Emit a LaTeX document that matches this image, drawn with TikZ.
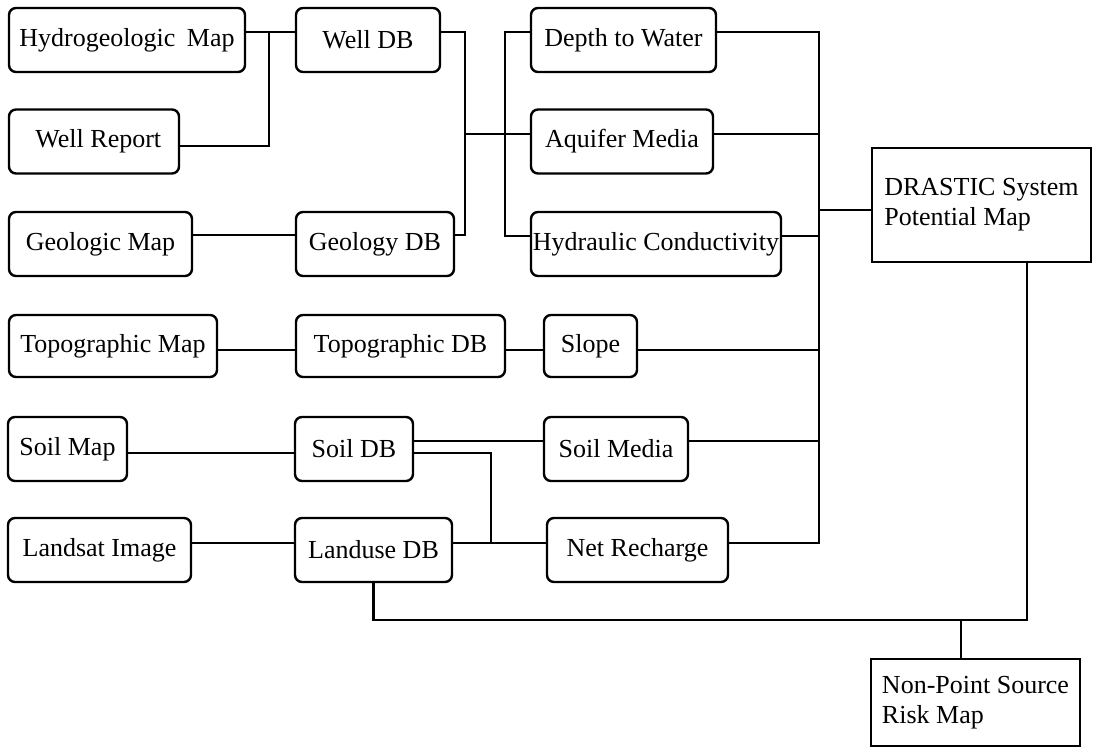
\documentclass[tikz,border=0pt]{standalone}
\usepackage{fontspec}
\setmainfont{Liberation Serif}
\usetikzlibrary{positioning}

\begin{document}
\begin{tikzpicture}[
  x=1pt, y=-1pt,
  every node/.style={font=\fontsize{26}{30}\selectfont},
  databox/.style={draw, rounded corners=7pt, line width=2.4pt, fill=white,
                  inner sep=1pt, minimum height=64pt},
  mapbox/.style={draw, line width=2.4pt, fill=white, align=left,
                 inner sep=1pt},
  conn/.style={line width=2.2pt}
]
  \useasboundingbox (0,0) rectangle (1093,748);

  %% Column 1  (source maps)
  \node[databox, minimum width=236pt] (hydro)   at (127,40)    {Hydrogeologic\;\,Map};
  \node[databox, minimum width=170pt] (wellrep) at (94,141.5)  {\,\,Well Report};
  \node[databox, minimum width=183pt] (geomap)  at (100.5,244) {Geologic Map};
  \node[databox, minimum width=208pt, minimum height=62pt] (topomap) at (113,346) {Topographic Map};
  \node[databox, minimum width=119pt] (soilmap) at (67.5,449)  {Soil Map};
  \node[databox, minimum width=183pt] (landsat) at (99.5,550)  {Landsat Image};

  %% Column 2  (databases)
  \node[databox, minimum width=144pt] (welldb)  at (368,40)    {Well DB};
  \node[databox, minimum width=158pt] (geodb)   at (375,244)   {Geology DB};
  \node[databox, minimum width=209pt, minimum height=62pt] (topodb) at (400.5,346) {Topographic DB};
  \node[databox, minimum width=118pt] (soildb)  at (354,449)   {Soil DB};
  \node[databox, minimum width=157pt] (landdb)  at (373.5,550) {Landuse DB};

  %% Column 3  (DRASTIC factors)
  \node[databox, minimum width=185pt] (depth)     at (623.5,40)  {Depth to Water};
  \node[databox, minimum width=182pt] (aquifer)   at (622,141.5) {Aquifer Media};
  \node[databox, minimum width=250pt] (hydcond)   at (656,244)   {Hydraulic Conductivity};
  \node[databox, minimum width=93pt, minimum height=62pt] (slope) at (590.5,346) {Slope};
  \node[databox, minimum width=144pt] (soilmedia) at (616,449)   {Soil Media};
  \node[databox, minimum width=181pt] (netrech)   at (637.5,550) {Net Recharge};

  %% Results
  \node[mapbox, minimum width=219pt, minimum height=114pt] (drastic) at (981.5,205)
       {DRASTIC System\\Potential Map};
  \node[mapbox, minimum width=209pt, minimum height=87pt] (nps) at (975.5,702.5)
       {Non-Point Source\\Risk Map};

  %% Junctions
  \coordinate (jH) at (269,32);
  \coordinate (jR) at (269,146);
  \coordinate (gT) at (465,32);
  \coordinate (gM) at (465,134);
  \coordinate (gB) at (465,235);
  \coordinate (dT) at (505,32);
  \coordinate (dB) at (505,236);
  \coordinate (sT) at (491,453);
  \coordinate (sB) at (491,543);
  \coordinate (tD) at (819,32);
  \coordinate (tA) at (819,134);
  \coordinate (tH) at (819,236);
  \coordinate (tR) at (819,210);
  \coordinate (tS) at (819,350);
  \coordinate (tM) at (819,441);
  \coordinate (tN) at (819,543);
  \coordinate (rB) at (1027,620);
  \coordinate (nJ) at (961,620);

  %% Wells and hydrogeology
  \draw[conn] (hydro.east |- jH) -- (welldb.west |- jH);
  \draw[conn] (wellrep.east |- jR) -- (jR) -- (jH);
  \draw[conn] (geomap.east |- gB) -- (geodb.west |- gB);
  \draw[conn] (welldb.east |- gT) -- (gT) -- (gB) -- (geodb.east |- gB);
  \draw[conn] (gM) -- (aquifer.west |- gM);
  \draw[conn] (depth.west |- dT) -- (dT) -- (dB) -- (hydcond.west |- dB);

  %% Topography
  \draw[conn] (topomap.east |- tS) -- (topodb.west |- tS);
  \draw[conn] (topodb.east |- tS) -- (slope.west |- tS);

  %% Soil and landuse
  \draw[conn] (soilmap.east |- sT) -- (soildb.west |- sT);
  \draw[conn] (soildb.east |- tM) -- (soilmedia.west |- tM);
  \draw[conn] (soildb.east |- sT) -- (sT) -- (sB);
  \draw[conn] (landsat.east |- sB) -- (landdb.west |- sB);
  \draw[conn] (landdb.east |- sB) -- (netrech.west |- sB);

  %% Factors -> DRASTIC
  \draw[conn] (depth.east |- tD) -- (tD) -- (tN) -- (netrech.east |- tN);
  \draw[conn] (aquifer.east |- tA) -- (tA);
  \draw[conn] (hydcond.east |- tH) -- (tH);
  \draw[conn] (slope.east |- tS) -- (tS);
  \draw[conn] (soilmedia.east |- tM) -- (tM);
  \draw[conn] (tR) -- (drastic.west |- tR);

  %% DRASTIC + landuse -> risk map
  \draw[conn] (drastic.south -| rB) -- (rB) -- (landdb.south |- rB) -- (landdb.south);
  \draw[conn] (nJ) -- (nps.north -| nJ);
\end{tikzpicture}
\end{document}
